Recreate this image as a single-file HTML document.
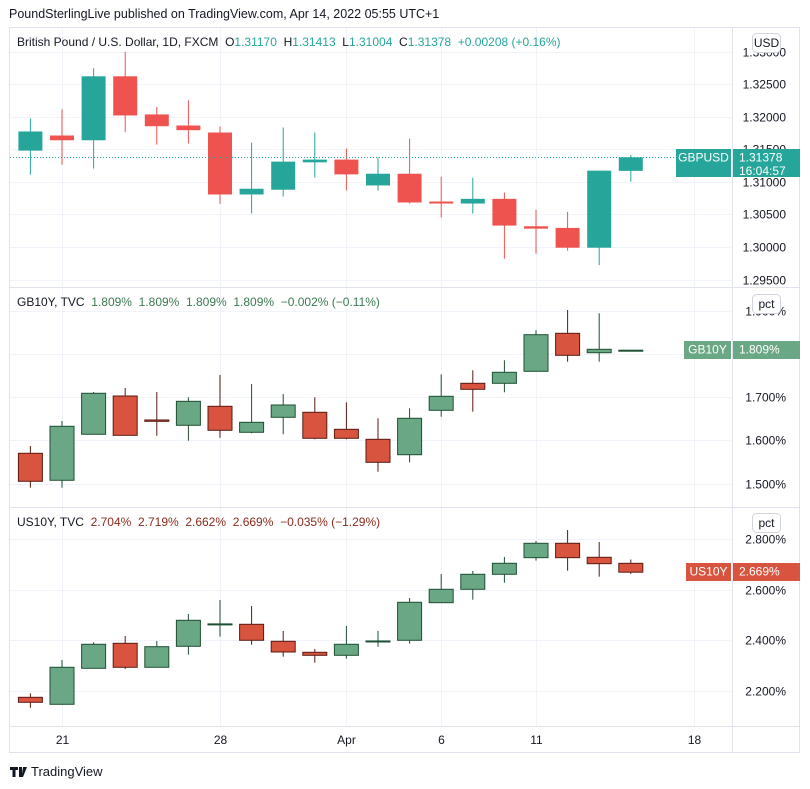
<!DOCTYPE html>
<html><head><meta charset="utf-8"><style>
body{margin:0;background:#fff;}
svg{display:block;font-family:"Liberation Sans",sans-serif;}
.pre{white-space:pre;}
</style></head><body>
<svg id="chart" width="810" height="789" viewBox="0 0 810 789">
<text x="9" y="18" font-size="12.5" fill="#131722">PoundSterlingLive published on TradingView.com, Apr 14, 2022 05:55 UTC+1</text>
<rect x="9.5" y="27.5" width="790" height="725" fill="#fff" stroke="#e0e3eb"/>
<g id="grid"></g>
<g id="marks"></g>
<line x1="732.5" y1="28" x2="732.5" y2="752" stroke="#e0e3eb"/>
<line x1="10" y1="287.5" x2="800" y2="287.5" stroke="#e0e3eb"/>
<line x1="10" y1="507.5" x2="800" y2="507.5" stroke="#e0e3eb"/>
<line x1="10" y1="726.5" x2="800" y2="726.5" stroke="#e0e3eb"/>
<g id="axes" font-size="12" fill="#131722"></g>

<text class="pre" x="17" y="46" font-size="12" fill="#131722">British Pound / U.S. Dollar, 1D, FXCM  O<tspan fill="#26a69a">1.31170</tspan>  H<tspan fill="#26a69a">1.31413</tspan>  L<tspan fill="#26a69a">1.31004</tspan>  C<tspan fill="#26a69a">1.31378</tspan>  <tspan fill="#26a69a">+0.00208 (+0.16%)</tspan></text>
<text class="pre" x="17" y="306" font-size="12" fill="#131722">GB10Y, TVC  <tspan fill="#3b7a52">1.809%  1.809%  1.809%  1.809%  −0.002% (−0.11%)</tspan></text>
<text class="pre" x="17" y="526" font-size="12" fill="#131722">US10Y, TVC  <tspan fill="#8a2a1c">2.704%  2.719%  2.662%  2.669%  −0.035% (−1.29%)</tspan></text>

<g id="badges"></g>

<g>
<path d="M10 767h8v3h-2.5v7h-3v-7H10z M19 767h3v10h-3z M23 767h4l-4 10h-1.5z" fill="#131722"/>
<text x="31" y="776" font-size="13" fill="#131722">TradingView</text>
</g>
</svg>
<script>
// ---------- data ----------
const dateLabels = ["21","28","Apr","6","11","18"];
const dateLabelIdx = [1,6,10,13,16,21];

const gbpOpen  = [1.31481,1.31713,1.3164,1.32623,1.32037,1.31867,1.31759,1.30807,1.3088,1.31301,1.31343,1.30946,1.31126,1.30699,1.30668,1.3074,1.30319,1.30293,1.29989,1.3117];
const gbpHigh  = [1.31975,1.32114,1.32747,1.33,1.3215,1.32253,1.31852,1.31605,1.31836,1.31759,1.31512,1.31373,1.31666,1.3108,1.31065,1.30838,1.30571,1.3054,1.31173,1.31413];
const gbpLow   = [1.31111,1.31265,1.31204,1.31764,1.31574,1.3159,1.30663,1.30514,1.30776,1.31069,1.30869,1.30869,1.30668,1.30452,1.30514,1.2982,1.29897,1.29943,1.29722,1.31004];
const gbpClose = [1.31775,1.3164,1.32623,1.32021,1.31856,1.31795,1.30807,1.30895,1.31312,1.31343,1.31116,1.31126,1.30684,1.30668,1.3074,1.30329,1.30282,1.29989,1.31173,1.31378];
const gbpTicks = [1.295,1.300,1.305,1.310,1.315,1.320,1.325,1.330];

const gbyOpen  = [1.5704,1.5079,1.6144,1.703,1.6475,1.6352,1.6792,1.619,1.6537,1.6653,1.6259,1.6028,1.5671,1.6699,1.7324,1.7324,1.7602,1.8481,1.8032,1.809];
const gbyHigh  = [1.5873,1.6451,1.7123,1.7215,1.7123,1.7,1.7516,1.7308,1.7076,1.7,1.6884,1.6514,1.6745,1.7532,1.7625,1.7857,1.8551,1.9021,1.8944,1.809];
const gbyLow   = [1.4907,1.4907,1.6144,1.612,1.6111,1.5995,1.6065,1.6167,1.6144,1.6028,1.6028,1.5278,1.5495,1.6551,1.6667,1.7116,1.7602,1.7824,1.7824,1.809];
const gbyClose = [1.5056,1.6329,1.7093,1.612,1.6444,1.6907,1.6236,1.6421,1.6822,1.6051,1.6051,1.5495,1.6514,1.7023,1.7185,1.7579,1.8449,1.7972,1.8111,1.809];
const gbyTicks = [1.5,1.6,1.7,1.8,1.9];

const usyOpen  = [2.1751,2.1475,2.2896,2.3883,2.2936,2.3765,2.4645,2.4633,2.3962,2.3528,2.3409,2.3962,2.4002,2.5486,2.6015,2.6607,2.7263,2.7831,2.7278,2.704];
const usyHigh  = [2.1909,2.3224,2.3923,2.4171,2.3974,2.504,2.5593,2.5356,2.4369,2.3658,2.4566,2.4369,2.5672,2.6619,2.6737,2.729,2.7922,2.8356,2.7882,2.719];
const usyLow   = [2.134,2.1475,2.2896,2.2869,2.2936,2.3433,2.4144,2.3828,2.3354,2.3117,2.3275,2.3749,2.3867,2.5486,2.5604,2.6276,2.7144,2.6749,2.6512,2.662];
const usyClose = [2.1554,2.2936,2.3844,2.2936,2.3749,2.4791,2.4649,2.4002,2.354,2.3409,2.3844,2.3975,2.5502,2.6015,2.6607,2.7041,2.7831,2.7263,2.7026,2.669];
const usyTicks = [2.2,2.4,2.6,2.8];

// ---------- scales ----------
function lin(d0,d1,r0,r1){return v=>r0+(v-d0)*(r1-r0)/(d1-d0);}
const xAt = lin(0,21,30.4,694);
const yGbp = lin(1.300,1.325,247,84.3);
const yGby = lin(1.5,1.7,483.7,397.3);
const yUsy = lin(2.2,2.8,691,539);
const NS="http://www.w3.org/2000/svg";
function mk(parent,tag,attrs){const e=document.createElementNS(NS,tag);for(const k in attrs)e.setAttribute(k,attrs[k]);parent.appendChild(e);return e;}
const grid=document.getElementById('grid'), marks=document.getElementById('marks'), axes=document.getElementById('axes'), badges=document.getElementById('badges');

dateLabelIdx.forEach((di,i)=>{
  const x=Math.round(xAt(di))+0.5;
  const l=mk(grid,'line',{x1:x,y1:28,x2:x,y2:726,stroke:'#f0f3fa'});
  
  
  const t=mk(axes,'text',{x:x,y:744,'text-anchor':'middle'});
  t.textContent=dateLabels[i];
  
  
});

function pane(name,ticks,ys,fmt,top,bot,O,H,L,C,up,dn,upB,dnB){
  ticks.forEach(v=>{
    const y=Math.round(ys(v))+0.5;
    if(y<top||y>bot)return;
    const g=mk(grid,'line',{x1:10,y1:y,x2:732,y2:y,stroke:'#f0f3fa'});
    
    
    const t=mk(axes,'text',{x:786,y:y+4,'text-anchor':'end'});
    t.textContent=fmt(v);
    
    
  });
  O.forEach((o,i)=>{
    const x=xAt(i), c=C[i], isUp=c>=o;
    const g=mk(marks,'g',{});
    
    
    const col=isUp?up:dn, bc=isUp?upB:dnB;
    mk(g,'line',{x1:x,y1:ys(H[i]),x2:x,y2:ys(L[i]),stroke:bc||col,'stroke-width':1});
    const yt=ys(Math.max(o,c)), yb=ys(Math.min(o,c));
    mk(g,'rect',{x:x-12,y:yt,width:24,height:Math.max(1,yb-yt),fill:col,stroke:bc||'none','stroke-width':bc?1:0});
  });
}
pane('gbpusd',gbpTicks,yGbp,v=>v.toFixed(5),30,285,gbpOpen,gbpHigh,gbpLow,gbpClose,'#26a69a','#ef5350',null,null);
pane('gb10y',gbyTicks,yGby,v=>v.toFixed(3)+'%',290,505,gbyOpen,gbyHigh,gbyLow,gbyClose,'#6aa784','#d9543f','#1f4f33','#5a1a12');
pane('us10y',usyTicks,yUsy,v=>v.toFixed(3)+'%',510,724,usyOpen,usyHigh,usyLow,usyClose,'#6aa784','#d9543f','#1f4f33','#5a1a12');

const lastY=Math.round(yGbp(gbpClose[gbpClose.length-1]))+0.5;
const pl=mk(marks,'line',{x1:10,y1:lastY,x2:676,y2:lastY,stroke:'#26a69a','stroke-dasharray':'1 2'});



function badge(name,label,val,y,h,col,lx,sub){
  const g=mk(badges,'g',{});
  
  
  mk(g,'rect',{x:lx,y:y,width:731-lx,height:h,fill:col});
  mk(g,'rect',{x:733,y:y,width:67,height:h,fill:col});
  const t1=mk(g,'text',{x:(lx+731)/2,y:y+12.5,'text-anchor':'middle',fill:'#fff','font-size':12});t1.textContent=label;
  const t2=mk(g,'text',{x:739,y:y+12.5,fill:'#fff','font-size':12});t2.textContent=val;
  if(sub){const t3=mk(g,'text',{x:739,y:y+26,fill:'#fff','font-size':12});t3.textContent=sub;}
}
badge('gbpusd','GBPUSD','1.31378',149,28,'#26a69a',676,'16:04:57');
badge('gb10y','GB10Y','1.809%',Math.round(yGby(gbyClose[19]))-9,18,'#6aa784',684);
badge('us10y','US10Y','2.669%',Math.round(yUsy(usyClose[19]))-9,18,'#d9543f',686);

function unit(name,txt,y){
  const g=mk(badges,'g',{});
  
  
  mk(g,'rect',{x:752.5,y:y+0.5,width:28,height:19,rx:4,fill:'#fff',stroke:'#d1d4dc'});
  const t=mk(g,'text',{x:766.5,y:y+14,'text-anchor':'middle','font-size':12,fill:'#131722'});t.textContent=txt;
}
unit('usd-unit-button','USD',33);
unit('gb10y-unit-button','pct',294);
unit('us10y-unit-button','pct',513);
</script>
</body></html>
